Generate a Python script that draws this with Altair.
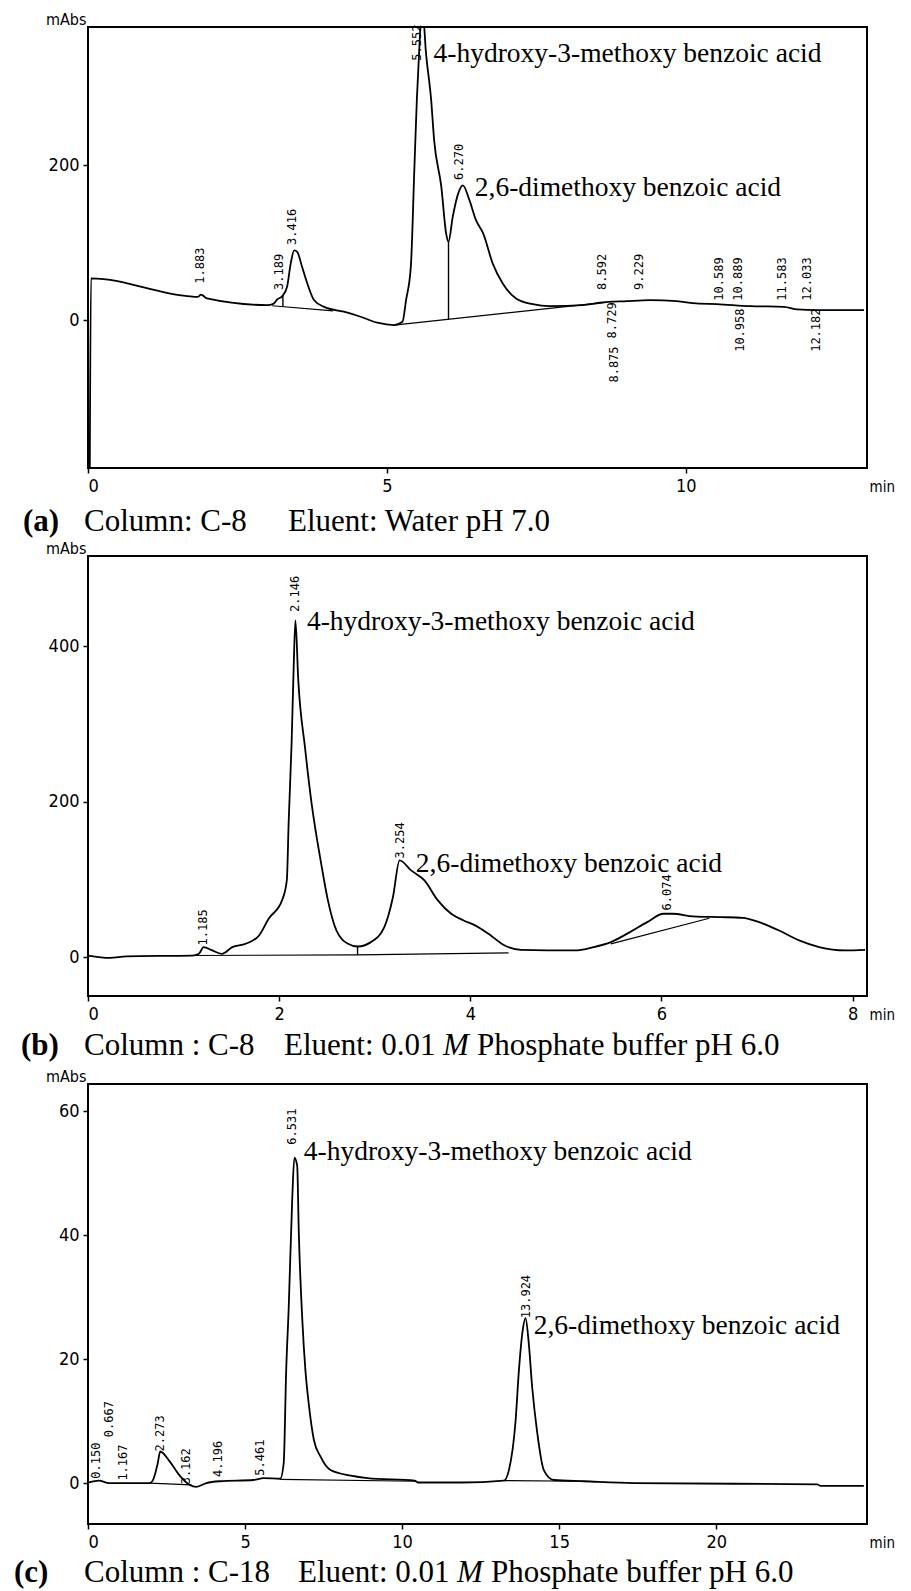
import altair as alt
import pandas as pd

NARROW = "Liberation Sans Narrow, DejaVu Sans Condensed, Liberation Sans, sans-serif"
SERIF = "Liberation Serif, Times New Roman, serif"
MONO = "DejaVu Sans Mono, Liberation Mono, monospace"

COMPOUNDS = ["4-hydroxy-3-methoxy benzoic acid", "2,6-dimethoxy benzoic acid"]

# ---------------- Panel (a): C-8, water pH 7.0 ----------------
A_TIME = [0.03, 0.05, 1.66, 1.84, 1.89, 1.99, 3.0, 3.1, 3.17, 3.25, 3.33, 3.39, 3.45, 3.5, 3.58,
          3.67, 3.78, 3.95, 4.28, 4.56, 4.84, 5.12, 5.26, 5.32, 5.4, 5.46, 5.5, 5.54, 5.57, 5.61,
          5.65, 5.74, 5.79, 5.91, 5.99, 6.03, 6.1, 6.19, 6.27, 6.38, 6.49, 6.61, 6.77, 6.94, 7.16,
          7.44, 7.72, 8.28, 8.56, 9.01, 9.4, 9.85, 10.18, 10.52, 11.08, 11.64, 11.86, 12.2, 12.98]
A_ABS = [-191, 54, 31, 30, 33, 28, 19.4, 21, 27, 31, 43, 73, 90, 88, 69,
         47, 26, 17, 10.8, 4.3, -3.4, -6.5, -2.2, 25.8, 69, 198, 284, 348, 388, 388,
         348, 284, 232, 172, 112, 101, 133, 163, 174, 155, 129, 112, 73, 47, 28,
         20.6, 18, 19.4, 22.4, 24.5, 25.8, 24.5, 21.5, 20.6, 18, 17.2, 13.8, 12.9, 12.9]
A_BASE_SEG = [1, 1, 2, 2]
A_BASE_T = [3.08, 4.1, 5.12, 8.65]
A_BASE_V = [18.5, 12, -6.5, 23]
A_DROP_T = [3.26, 6.03]
A_DROP_V1 = [31, 101]
A_DROP_V2 = [17.5, 1.0]
A_UP_LBL = ["1.883", "3.189", "3.416", "5.552", "6.270", "8.592", "9.229", "10.589", "10.889", "11.583", "12.033"]
A_UP_T = [1.88, 3.19, 3.42, 5.51, 6.21, 8.59, 9.21, 10.55, 10.88, 11.61, 12.03]
A_UP_V = [47, 39, 97, 335, 181, 39, 39, 25, 25, 25, 25]
A_DN_LBL = ["8.729", "8.875", "10.958", "12.182"]
A_DN_T = [8.76, 8.79, 10.91, 12.17]
A_DN_V = [23, -34, 15, 15]
A_NAME_T = [5.78, 6.47]
A_NAME_V = [344, 170]

# ---------------- Panel (b): C-8, phosphate buffer ----------------
B_TIME = [0, 0.23, 0.4, 1.09, 1.16, 1.21, 1.3, 1.4, 1.51, 1.65, 1.79, 1.89, 2.03, 2.08, 2.1,
          2.13, 2.15, 2.17, 2.2, 2.27, 2.34, 2.44, 2.51, 2.6, 2.72, 2.82, 2.96, 3.1, 3.19, 3.26,
          3.38, 3.52, 3.66, 3.8, 3.93, 4.05, 4.19, 4.36, 4.53, 5.09, 5.29, 5.47, 5.67, 5.85, 6.02,
          6.12, 6.33, 6.61, 6.85, 7.02, 7.23, 7.44, 7.65, 7.92, 8.13]
B_ABS = [2, -1, 1, 2, 4.3, 12.9, 8.6, 4.3, 12.9, 17.2, 27.9, 49.4, 73, 98.7, 176,
         275, 365, 433, 356, 270, 197, 120, 73, 34, 17.2, 13.7, 19.3, 38.6, 77, 124.5,
         111.6, 98.7, 73, 55.8, 47.2, 40.8, 30, 15, 9.4, 8.6, 12.9, 19.3, 32.2, 45, 55.8,
         55.8, 52.4, 51.5, 50.6, 45, 34.3, 21.5, 12.9, 8.6, 9.4]
B_BASE_SEG = [1, 1, 2, 2, 3, 3]
B_BASE_T = [1.1, 2.82, 2.82, 4.4, 5.47, 6.5]
B_BASE_V = [2.1, 3.0, 3.0, 5.5, 17, 50]
B_DROP_T = [2.82]
B_DROP_V1 = [13.7]
B_DROP_V2 = [3.0]
B_UP_LBL = ["1.185", "2.146", "3.254", "6.074"]
B_UP_T = [1.2, 2.17, 3.26, 6.06]
B_UP_V = [15, 444, 127, 60]
B_NAME_T = [2.29, 3.43]
B_NAME_V = [431, 120]

# ---------------- Panel (c): C-18, phosphate buffer ----------------
C_TIME = [0.03, 0.35, 0.67, 1.96, 2.06, 2.22, 2.3, 2.6, 2.92, 3.24, 3.45, 3.77, 4.2, 5.27, 5.59,
          6.12, 6.23, 6.31, 6.39, 6.5, 6.57, 6.66, 6.71, 6.82, 6.92, 7.03, 7.19, 7.4, 7.72, 8.37,
          8.9, 10.4, 10.5, 11.89, 13.24, 13.4, 13.61, 13.72, 13.82, 13.93, 14.03, 14.14, 14.3,
          14.51, 14.83, 15.79, 17.38, 23.22, 23.32, 24.7]
C_ABS = [0.1, 0.4, 0, 0, 0.4, 3.2, 5.1, 3.5, 1.2, -0.3, -0.6, 0, 0.3, 0.5, 0.8,
         0.7, 3.2, 18.3, 28.3, 45.6, 52.5, 51.2, 40.6, 26.6, 18.3, 12.7, 7.0, 4.3, 2.1, 1.2,
         0.8, 0.4, 0.1, 0.1, 0.4, 2.1, 9.9, 18.3, 23.9, 26.6, 22.7, 15.5, 8.2,
         2.1, 0.5, 0.3, 0, -0.2, -0.45, -0.45]
C_BASE_SEG = [1, 1, 2, 2, 3, 3]
C_BASE_T = [1.96, 3.3, 6.12, 10.45, 13.24, 15.8]
C_BASE_V = [0, -0.3, 0.6, 0.3, 0.4, 0.3]
C_UP_LBL = ["0.150", "0.667", "1.167", "2.273", "3.162", "4.196", "5.461", "6.531", "13.924"]
C_UP_T = [0.25, 0.67, 1.1, 2.28, 3.13, 4.15, 5.46, 6.5, 13.93]
C_UP_V = [0.7, 7.4, 0.4, 5.1, -0.2, 1.0, 1.2, 54.6, 26.6]
C_NAME_T = [6.87, 14.19]
C_NAME_V = [53.5, 25.3]

CAPTIONS = {
    "a": [("(a)", -65, "bold", "normal"), ("Column: C-8", -4, "normal", "normal"),
          ("Eluent: Water pH 7.0", 200, "normal", "normal")],
    "b": [("(b)", -67, "bold", "normal"), ("Column : C-8", -4, "normal", "normal"),
          ("Eluent: 0.01", 196, "normal", "normal"), ("M", 355, "normal", "italic"),
          ("Phosphate buffer pH 6.0", 389, "normal", "normal")],
    "c": [("(c)", -74, "bold", "normal"), ("Column : C-18", -4, "normal", "normal"),
          ("Eluent: 0.01", 210, "normal", "normal"), ("M", 369, "normal", "italic"),
          ("Phosphate buffer pH 6.0", 403, "normal", "normal")],
}


def panel(key, w, h, xdom, ydom, xticks, yticks, tt, vv, bseg, bt, bv,
          dt, dv1, dv2, up, upt, upv, dn, dnt, dnv, namet, namev, cap_dy):
    xs = alt.Scale(domain=xdom, nice=False, zero=False)
    ys = alt.Scale(domain=ydom, nice=False, zero=False)
    xaxis = alt.Axis(values=xticks, format="d", title="min", titleX=w + 2, titleY=18,
                     titleAlign="left", titleBaseline="middle", titleFont=NARROW,
                     titleFontSize=15, titleFontWeight="normal", titleColor="black")
    yaxis = alt.Axis(values=yticks, format="d", title="mAbs", titleAngle=0, titleAlign="right",
                     titleBaseline="alphabetic", titleX=-2, titleY=-3, titleFont=NARROW,
                     titleFontSize=16, titleFontWeight="normal", titleColor="black")

    def X(f):
        return alt.X(f, scale=xs, axis=xaxis, title="min")

    def Y(f):
        return alt.Y(f, scale=ys, axis=yaxis, title="mAbs")

    trace = alt.Chart(pd.DataFrame({"t": tt, "v": vv})).mark_line(
        color="black", strokeWidth=1.8, clip=True, interpolate="monotone"
    ).encode(x=X("t:Q"), y=Y("v:Q"))
    layers = [trace]
    if bt:
        base = alt.Chart(pd.DataFrame({"s": bseg, "t": bt, "v": bv})).mark_line(
            color="black", strokeWidth=1.2, clip=True
        ).encode(x=X("t:Q"), y=Y("v:Q"), detail="s:N")
        layers.append(base)
    if dt:
        drop = alt.Chart(pd.DataFrame({"t": dt, "v": dv1, "v2": dv2})).mark_rule(
            color="black", strokeWidth=1.4
        ).encode(x=X("t:Q"), y=Y("v:Q"), y2="v2:Q")
        layers.append(drop)
    if up:
        lu = alt.Chart(pd.DataFrame({"t": upt, "v": upv, "s": up})).mark_text(
            angle=270, align="left", baseline="middle", font=MONO, fontSize=12,
            color="black"
        ).encode(x=X("t:Q"), y=Y("v:Q"), text="s:N")
        layers.append(lu)
    if dn:
        ld = alt.Chart(pd.DataFrame({"t": dnt, "v": dnv, "s": dn})).mark_text(
            angle=270, align="right", baseline="middle", font=MONO, fontSize=12,
            color="black"
        ).encode(x=X("t:Q"), y=Y("v:Q"), text="s:N")
        layers.append(ld)
    names = alt.Chart(pd.DataFrame({"t": namet, "v": namev, "s": COMPOUNDS})).mark_text(
        align="left", baseline="middle", font=SERIF, fontSize=27.5, color="black"
    ).encode(x=X("t:Q"), y=Y("v:Q"), text="s:N")
    layers.append(names)
    for text, xo, weight, style in CAPTIONS[key]:
        cap = alt.Chart(pd.DataFrame({"s": [text]})).mark_text(
            align="left", baseline="alphabetic", font=SERIF, fontSize=31,
            fontWeight=weight, fontStyle=style, color="black"
        ).encode(x=alt.value(xo), y=alt.value(h + cap_dy), text="s:N")
        layers.append(cap)
    return alt.layer(*layers).properties(width=w, height=h)


pa = panel("a", 779, 441, [0, 13.03], [-191, 378.5], [0, 5, 10], [0, 200],
           A_TIME, A_ABS, A_BASE_SEG, A_BASE_T, A_BASE_V, A_DROP_T, A_DROP_V1, A_DROP_V2,
           A_UP_LBL, A_UP_T, A_UP_V, A_DN_LBL, A_DN_T, A_DN_V, A_NAME_T, A_NAME_V, 63)
pb = panel("b", 779, 440, [0, 8.15], [-50, 516], [0, 2, 4, 6, 8], [0, 200, 400],
           B_TIME, B_ABS, B_BASE_SEG, B_BASE_T, B_BASE_V, B_DROP_T, B_DROP_V1, B_DROP_V2,
           B_UP_LBL, B_UP_T, B_UP_V, [], [], [], B_NAME_T, B_NAME_V, 59)
pc = panel("c", 779, 440, [0, 24.8], [-6.6, 64.4], [0, 5, 10, 15, 20], [0, 20, 40, 60],
           C_TIME, C_ABS, C_BASE_SEG, C_BASE_T, C_BASE_V, [], [], [],
           C_UP_LBL, C_UP_T, C_UP_V, [], [], [], C_NAME_T, C_NAME_V, 58)

chart = alt.vconcat(pa, pb, pc, spacing=88, bounds="flush").properties(
    padding={"left": 5, "top": 2, "right": 5, "bottom": 0},
    background="white",
).configure_view(
    stroke="black", strokeWidth=2
).configure_axis(
    labelFont=NARROW, labelFontSize=18, labelColor="black", tickColor="black",
    tickWidth=1.5, tickSize=5, domain=False, grid=False, labelPadding=4
)

chart.save("out.html", embed_options={"renderer": "svg", "actions": False})
